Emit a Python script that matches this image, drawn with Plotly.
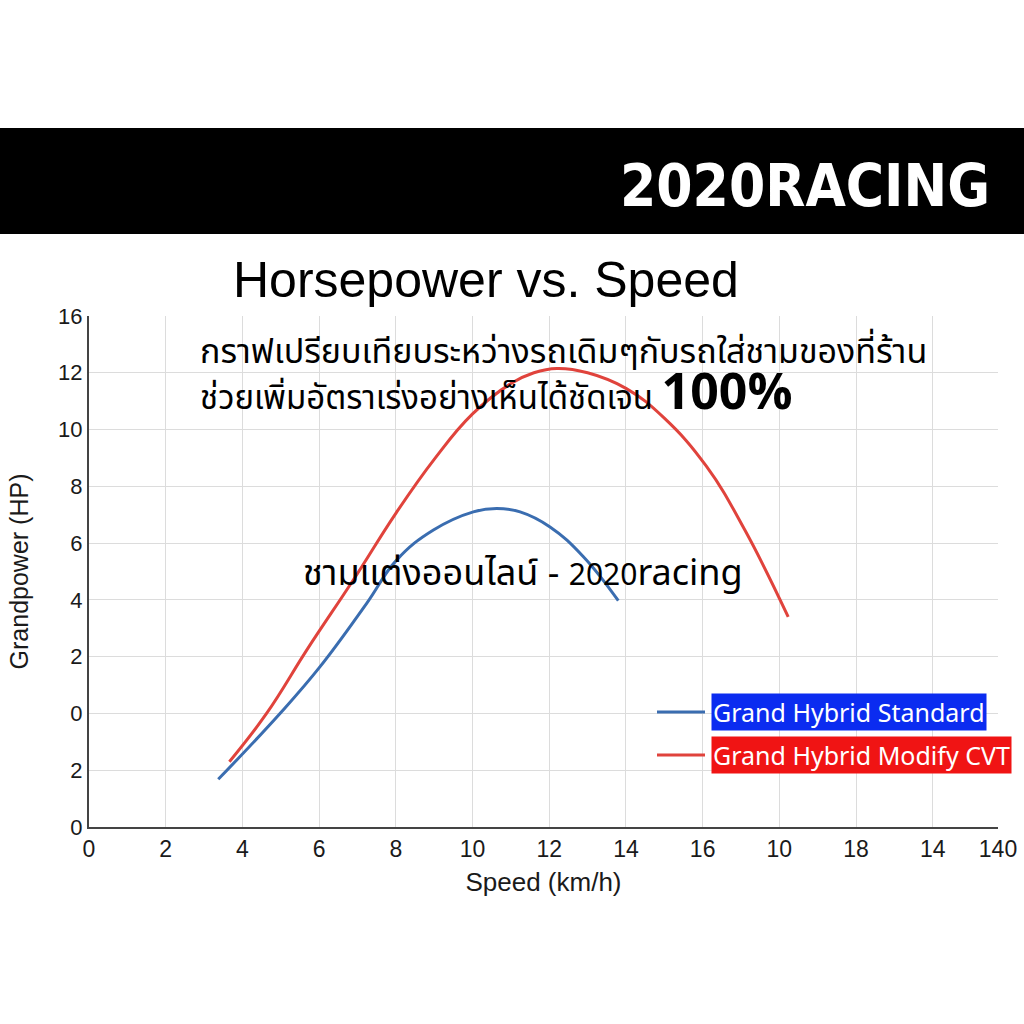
import plotly.graph_objects as go

# ---- data ----
std_speed = [3.37, 4.98, 6.02, 7.24, 8.02, 8.98, 10.02, 10.63, 11.24, 12.02, 12.89, 13.80]
std_power = [1.68, 4.00, 5.64, 7.88, 9.40, 10.46, 11.10, 11.22, 11.10, 10.57, 9.52, 7.97]

mod_speed = [3.66, 4.63, 5.71, 6.89, 8.00, 9.00, 10.00, 11.00, 11.60, 12.20, 13.00, 14.00, 15.00, 16.10, 17.10, 18.23]
mod_power = [2.30, 4.00, 6.30, 8.70, 11.05, 12.95, 14.55, 15.62, 16.00, 16.15, 16.00, 15.45, 14.40, 12.70, 10.46, 7.40]

x_tick_vals = [0, 2, 4, 6, 8, 10, 12, 14, 16, 18, 20, 22, 23.7]
x_tick_text = ["0", "2", "4", "6", "8", "10", "12", "14", "16", "10", "18", "14", "140"]
y_tick_vals = [0, 2, 4, 6, 8, 10, 12, 14, 16, 18]
y_tick_text = ["0", "2", "0", "2", "4", "6", "8", "10", "12", "16"]

series_names = ["Grand Hybrid Standard", "Grand Hybrid Modify CVT"]
line_colors = ["#3a6db0", "#e0433c"]
box_colors = ["#0b2cf0", "#f01414"]

# ---- layout geometry (pixels) ----
W, H = 1024, 1024
L, R, T, B = 89, 998, 316, 827


def px(xp):
    return (xp - L) / (R - L)


def py(yp):
    return (B - yp) / (B - T)


fig = go.Figure()
fig.add_trace(go.Scatter(x=std_speed, y=std_power, mode="lines", name=series_names[0],
                         line=dict(color=line_colors[0], width=3, shape="spline", smoothing=1.2)))
fig.add_trace(go.Scatter(x=mod_speed, y=mod_power, mode="lines", name=series_names[1],
                         line=dict(color=line_colors[1], width=3, shape="spline", smoothing=1.2)))

shapes = [
    dict(type="rect", xref="paper", yref="paper", x0=px(0), x1=px(W), y0=py(234), y1=py(128),
         fillcolor="black", line=dict(width=0), layer="below"),
]
# legend sample lines
for i, yy in enumerate([712, 755]):
    shapes.append(dict(type="line", xref="paper", yref="paper", x0=px(657), x1=px(705),
                       y0=py(yy), y1=py(yy), line=dict(color=line_colors[i], width=3)))

thai_font = "Noto Sans Thai, Noto Sans, sans-serif"
annotations = [
    dict(text="<b>2020RACING</b>", xref="paper", yref="paper", x=px(992), y=py(186),
         xanchor="right", yanchor="middle", showarrow=False,
         font=dict(family="DejaVu Sans Condensed, Roboto, sans-serif", size=58, color="white")),
    dict(text="Horsepower vs. Speed", xref="paper", yref="paper", x=px(486), y=py(280),
         xanchor="center", yanchor="middle", showarrow=False,
         font=dict(family="Liberation Sans, Arial", size=50, color="black")),
    dict(text="กราฟเปรียบเทียบระหว่างรถเดิมๆกับรถใส่ชามของที่ร้าน", xref="paper", yref="paper",
         x=px(198), y=py(352), xanchor="left", yanchor="middle", showarrow=False,
         font=dict(family=thai_font, size=34, color="black")),
    dict(text="ช่วยเพิ่มอัตราเร่งอย่างเห็นได้ชัดเจน <b><span style='font-size:50px'>100%</span></b>",
         xref="paper", yref="paper",
         x=px(198), y=py(394), xanchor="left", yanchor="middle", showarrow=False,
         font=dict(family=thai_font, size=33, color="black")),
    dict(text="ชามแต่งออนไลน์ - <span style='font-size:30px'>2020</span>racing", xref="paper", yref="paper",
         x=px(523), y=py(574), xanchor="center", yanchor="middle", showarrow=False,
         font=dict(family=thai_font, size=36, color="black")),
]
for i, yy in enumerate([712, 755]):
    annotations.append(dict(text=series_names[i], xref="paper", yref="paper",
                            x=px(711), y=py(yy), xanchor="left", yanchor="middle", showarrow=False,
                            bgcolor=box_colors[i], borderpad=1,
                            font=dict(family="Noto Sans, sans-serif", size=25, color="white")))

axis_font = dict(family="Liberation Sans, Arial", color="#1a1a1a")
fig.update_layout(
    width=W, height=H,
    margin=dict(l=L, r=W - R, t=T, b=H - B, autoexpand=False),
    paper_bgcolor="white", plot_bgcolor="white",
    showlegend=False,
    shapes=shapes, annotations=annotations,
    xaxis=dict(range=[0, 23.7], tickvals=x_tick_vals, ticktext=x_tick_text, automargin=False,
               showgrid=True, gridcolor="#dcdcdc", gridwidth=1,
               showline=True, linecolor="#444", linewidth=2, zeroline=False,
               ticks="", tickfont=dict(size=23, **axis_font),
               title=dict(text="Speed (km/h)", font=dict(size=26, **axis_font), standoff=12)),
    yaxis=dict(range=[0, 18], tickvals=y_tick_vals, ticktext=y_tick_text, automargin=False,
               showgrid=True, gridcolor="#dcdcdc", gridwidth=1,
               showline=True, linecolor="#444", linewidth=2, zeroline=False,
               ticks="", tickfont=dict(size=22, **axis_font),
               title=dict(text="Grandpower (HP)", font=dict(size=25, **axis_font), standoff=22)),
)

fig.write_html("out.html", config={"displayModeBar": False},
               post_script="document.body.style.margin='0';document.body.style.padding='0';")
